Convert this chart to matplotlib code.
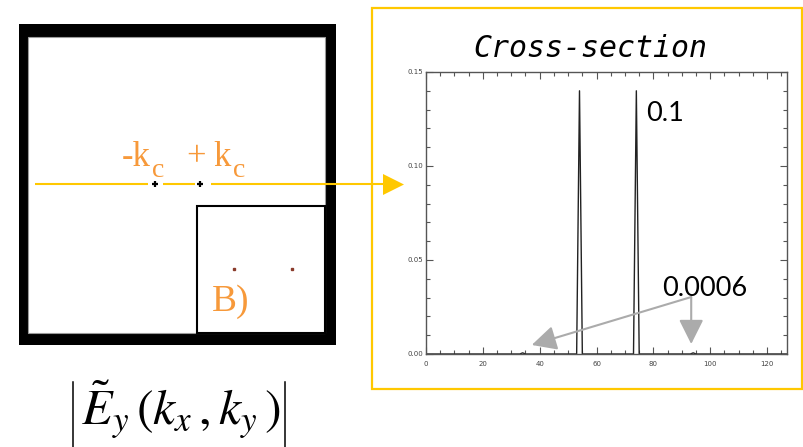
import numpy as np
import matplotlib.pyplot as plt
from matplotlib.patches import Rectangle, Polygon
from matplotlib.ticker import MultipleLocator

# cross-section through the spectrum (128 samples)
n_samples = 128
peak_pos = [54, 74]
peak_val = [0.14, 0.14]
side_pos = [34, 94]
side_val = [0.0006, 0.0006]

x_ticks = [0, 20, 40, 60, 80, 100, 120]
y_ticks = [0.00, 0.05, 0.10, 0.15]
y_ticklabels = ["0.00", "0.05", "0.10", "0.15"]

peak_label = "0.1"
side_label = "0.0006"

YELLOW = "#FFC800"
ORANGE = "#F7993A"
GREY = "#ABABAB"

profile = np.zeros(n_samples)
profile[peak_pos] = peak_val
profile[side_pos] = side_val

plt.rcParams["mathtext.fontset"] = "stix"

W, H = 804, 447
fig = plt.figure(figsize=(W / 100, H / 100), dpi=100)

# pixel-space canvas for the map, boxes and arrows
bg = fig.add_axes([0, 0, 1, 1])
bg.set_xlim(0, W)
bg.set_ylim(H, 0)
bg.axis("off")

# |E_y(kx, ky)| map with its inset
bg.add_patch(Rectangle((19, 24), 317, 321, fc="black", ec="none"))
bg.add_patch(Rectangle((28, 37), 297, 296, fc="white", ec="#9a9a9a", lw=0.8))
bg.add_patch(Rectangle((197, 206), 128, 127, fc="white", ec="black", lw=1.5))
bg.plot([234, 292], [269, 269], ls="none", marker="s", ms=2, color="#8a3b2b")
bg.text(212, 311, "B)", family="Liberation Serif", fontsize=27,
        color=ORANGE, va="baseline")

# cut line through the two peaks, ending in an arrow
for x0, x1 in [(35, 148), (163, 195), (211, 384)]:
    bg.plot([x0, x1], [184, 184], color=YELLOW, lw=1.5, solid_capstyle="butt")
bg.add_patch(Polygon([[383, 174], [383, 195], [404, 184.5]], closed=True,
                     fc=YELLOW, ec="none"))
bg.plot([155, 200], [184, 184], ls="none", marker="+", ms=5, mew=1.6,
        color="black")

serif = dict(family="Liberation Serif", color=ORANGE, va="baseline")
bg.text(122, 166, "-k", fontsize=25, **serif)
bg.text(152, 177, "c", fontsize=20, **serif)
bg.text(186, 166, "+", fontsize=25, **serif)
bg.text(213, 166, "k", fontsize=25, **serif)
bg.text(233, 177, "c", fontsize=20, **serif)

bg.add_patch(Rectangle((372, 8), 430, 381, fill=False, ec=YELLOW, lw=1.6))
bg.text(590, 57, "Cross-section", family="DejaVu Sans Mono", style="italic",
        fontsize=21.5, ha="center", va="baseline")

# |E_y(kx, ky)| caption with tall absolute-value bars
bg.text(181, 425, r"$\tilde{E}_{y}\,(k_{x}\,,k_{y}\,)$", fontsize=36,
        ha="center", va="baseline")
for xb in (73, 285):
    bg.plot([xb, xb], [382, 452], color="black", lw=1.1, clip_on=False)

# the cross-section plot
ax = fig.add_axes([426 / W, 1 - 354 / H, (787 - 426) / W, (354 - 72) / H])
ax.set_facecolor("none")
ax.plot(np.arange(n_samples), profile, color="#222222", lw=1.0)
ax.set_xlim(0, 127)
ax.set_ylim(0, 0.15)
ax.set_xticks(x_ticks)
ax.set_yticks(y_ticks)
ax.set_yticklabels(y_ticklabels)
ax.xaxis.set_minor_locator(MultipleLocator(5))
ax.yaxis.set_minor_locator(MultipleLocator(0.01))
ax.tick_params(which="both", direction="in", top=True, right=True,
               labelsize=5, labelcolor="#444444", color="#555555", width=0.8)
ax.tick_params(which="major", length=5)
ax.tick_params(which="minor", length=3)
ax.tick_params(axis="y", pad=2)
ax.tick_params(axis="x", pad=5)
for s in ax.spines.values():
    s.set_color("#555555")
    s.set_linewidth(1)

ax.text(77.6, 0.1277, peak_label, family="Lato", fontsize=19.5, va="center")
ax.text(83.1, 0.0351, side_label, family="Lato", fontsize=19.5, va="center")
start = (93.3, 0.0303)
for end in [(37.2, 0.0048), (93.3, 0.0053)]:
    ax.annotate("", xy=end, xytext=start, annotation_clip=False,
                arrowprops=dict(arrowstyle="-|>,head_length=1.5,head_width=0.75",
                                color=GREY, lw=1.5, shrinkA=0, shrinkB=0,
                                mutation_scale=10))

fig.savefig("out.png", dpi=100)
